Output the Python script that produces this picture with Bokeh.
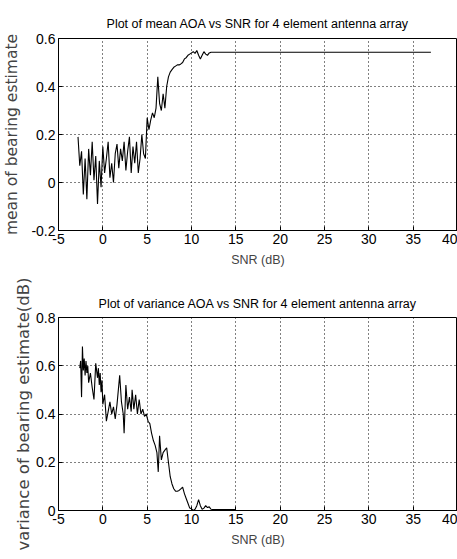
from bokeh.plotting import figure
from bokeh.layouts import column
from bokeh.models import FixedTicker, CustomJSTickFormatter, Range1d
from bokeh.embed import file_html
from bokeh.resources import INLINE

# ---- data ----
snr_mean = [-2.8, -2.6, -2.4, -2.2, -2.0, -1.8, -1.6, -1.4, -1.2, -1.0,
            -0.8, -0.6, -0.4, -0.2, 0.0, 0.2, 0.4, 0.6, 0.8, 1.0,
            1.2, 1.4, 1.6, 1.8, 2.0, 2.2, 2.4, 2.6, 2.8, 3.0,
            3.2, 3.4, 3.6, 3.8, 4.0, 4.2, 4.4, 4.6, 4.8, 5.0,
            5.2, 5.4, 5.6, 5.8, 6.0, 6.2, 6.4, 6.6, 6.8, 7.0,
            7.2, 7.4, 7.6, 7.8, 8.0, 8.2, 8.4, 8.6, 8.8, 9.0,
            9.2, 9.4, 9.6, 9.8, 10.0, 10.2, 10.4, 10.6, 10.8, 11.0,
            11.2, 11.4, 11.6, 11.8, 12.0, 12.2, 12.4, 37.0]
mean_aoa = [0.19, 0.07, 0.13, -0.05, 0.10, -0.07, 0.14, 0.03, 0.17, 0.01,
            0.11, -0.09, 0.09, -0.02, 0.15, 0.04, 0.10, 0.17, 0.02, 0.08,
            0.00, 0.12, 0.16, 0.06, 0.14, 0.09, 0.17, 0.05, 0.13, 0.19,
            0.04, 0.15, 0.08, 0.17, 0.04, 0.10, 0.20, 0.12, 0.10, 0.27,
            0.22, 0.26, 0.29, 0.27, 0.31, 0.44, 0.33, 0.30, 0.37, 0.31,
            0.40, 0.44, 0.46, 0.47, 0.48, 0.485, 0.49, 0.49, 0.494, 0.50,
            0.515, 0.52, 0.53, 0.535, 0.54, 0.545, 0.538, 0.55, 0.53, 0.515,
            0.53, 0.545, 0.535, 0.53, 0.54, 0.543, 0.543, 0.543]

snr_var = [-2.6, -2.5, -2.4, -2.3, -2.2, -2.1, -2.0, -1.9, -1.8, -1.7,
           -1.6, -1.4, -1.2, -1.0, -0.8, -0.6, -0.5, -0.4, -0.3, -0.2,
           -0.1, 0.0, 0.2, 0.4, 0.6, 0.8, 1.0, 1.2, 1.4, 1.6,
           1.9, 2.1, 2.3, 2.4, 2.6, 2.8, 3.0, 3.2, 3.3, 3.5,
           3.7, 3.9, 4.1, 4.3, 4.5, 4.7, 4.9, 5.1, 5.3, 5.5,
           5.7, 5.9, 6.1, 6.25, 6.4, 6.6, 6.8, 7.0, 7.2, 7.4,
           7.6, 7.8, 8.0, 8.2, 8.4, 8.6, 8.8, 9.0, 9.2, 9.4,
           9.6, 9.8, 10.0, 10.2, 10.4, 10.6, 10.8, 11.0, 11.2, 11.4,
           11.6, 11.8, 12.0, 12.2, 12.4, 15.0]
var_aoa = [0.59, 0.62, 0.47, 0.68, 0.58, 0.63, 0.56, 0.62, 0.57, 0.60,
           0.53, 0.57, 0.51, 0.46, 0.61, 0.55, 0.59, 0.52, 0.57, 0.49,
           0.54, 0.44, 0.48, 0.37, 0.41, 0.45, 0.40, 0.43, 0.38, 0.44,
           0.56, 0.45, 0.40, 0.32, 0.52, 0.42, 0.47, 0.41, 0.50, 0.42,
           0.48, 0.40, 0.46, 0.40, 0.42, 0.39, 0.40, 0.37, 0.36, 0.32,
           0.29, 0.27, 0.24, 0.16, 0.31, 0.21, 0.24, 0.25, 0.26, 0.20,
           0.14, 0.11, 0.09, 0.08, 0.08, 0.083, 0.09, 0.097, 0.07, 0.05,
           0.03, 0.01, 0.007, 0.0, 0.005, 0.02, 0.045, 0.02, 0.005, 0.01,
           0.02, 0.012, 0.015, 0.005, 0.004, 0.004]

x_ticks = [-5, 0, 5, 10, 15, 20, 25, 30, 35, 40]
x_tick_labels = ["-5", "0", "5", "10", "15", "20", "25", "30", "35", "40"]
y1_ticks = [-0.2, 0, 0.2, 0.4, 0.6]
y1_tick_labels = ["-0.2", "0", "0.2", "0.4", "0.6"]
y2_ticks = [0, 0.2, 0.4, 0.6, 0.8]
y2_tick_labels = ["0", "0.2", "0.4", "0.6", "0.8"]

title1 = "Plot of mean AOA vs SNR for 4 element antenna array"
title2 = "Plot of variance AOA vs SNR for 4 element antenna array"
xlabel = "SNR (dB)"
ylabel1 = "mean of bearing estimate"
ylabel2 = "variance of bearing estimate(dB)"

SANS = "Liberation Sans"
WIDE = "DejaVu Sans"


def fmt(ticks, labels):
    return CustomJSTickFormatter(args=dict(t=ticks, l=labels), code="""
        for (let i = 0; i < t.length; i++) {
            if (Math.abs(t[i] - tick) < 1e-9) return l[i];
        }
        return String(tick);
    """)


def style_axis(ax, ticks, labels):
    ax.ticker = FixedTicker(ticks=ticks)
    ax.formatter = fmt(ticks, labels)
    ax.axis_line_color = "black"
    ax.major_tick_line_color = "black"
    ax.major_tick_in = 4
    ax.major_tick_out = 0
    ax.minor_tick_line_color = None
    ax.major_label_text_color = "black"
    ax.major_label_text_font = SANS
    ax.major_label_text_font_size = "14px"
    ax.major_label_standoff = 3


def make(xs, ys, yr, yt, ytl, title, ylabel, ylabel_size, height, b_top, b_bottom,
         ylab_standoff, title_standoff):
    p = figure(width=457, height=height, x_range=Range1d(-5, 40), y_range=Range1d(*yr),
               output_backend="svg", toolbar_location=None,
               min_border_left=55, min_border_right=0,
               min_border_top=b_top, min_border_bottom=b_bottom,
               title=title)
    p.title.align = "center"
    p.title.text_font = SANS
    p.title.text_font_size = "12.5px"
    p.title.text_font_style = "normal"
    p.title.text_color = "black"
    p.title.standoff = title_standoff

    p.line(xs, ys, line_color="black", line_width=1.1)

    style_axis(p.xaxis[0], x_ticks, x_tick_labels)
    style_axis(p.yaxis[0], yt, ytl)
    p.xaxis[0].axis_label = xlabel
    p.xaxis[0].axis_label_text_font = SANS
    p.xaxis[0].axis_label_text_font_size = "12.5px"
    p.xaxis[0].axis_label_text_font_style = "normal"
    p.xaxis[0].axis_label_standoff = 6
    p.yaxis[0].axis_label = ylabel
    p.yaxis[0].axis_label_text_font = WIDE
    p.yaxis[0].axis_label_text_font_size = ylabel_size
    p.yaxis[0].axis_label_text_font_style = "normal"
    p.yaxis[0].axis_label_standoff = ylab_standoff

    p.xgrid.ticker = FixedTicker(ticks=x_ticks)
    p.ygrid.ticker = FixedTicker(ticks=yt)
    for g in (p.xgrid, p.ygrid):
        g.grid_line_color = "black"
        g.grid_line_dash = "1 3"
        g.grid_line_width = 1
        g.grid_line_alpha = 1.0
    p.outline_line_color = "black"
    p.outline_line_alpha = 1.0
    p.background_fill_color = "white"
    p.border_fill_color = "white"
    return p


p1 = make(snr_mean, mean_aoa, (-0.2, 0.6), y1_ticks, y1_tick_labels, title1, ylabel1,
          "15.5px", 278, 38, 48, 7, 15)
p2 = make(snr_var, var_aoa, (0, 0.8), y2_ticks, y2_tick_labels, title2, ylabel2,
          "16.5px", 281, 39, 49, 0, 14)

layout = column(p1, p2)
open("out.html", "w").write(file_html(layout, INLINE))
